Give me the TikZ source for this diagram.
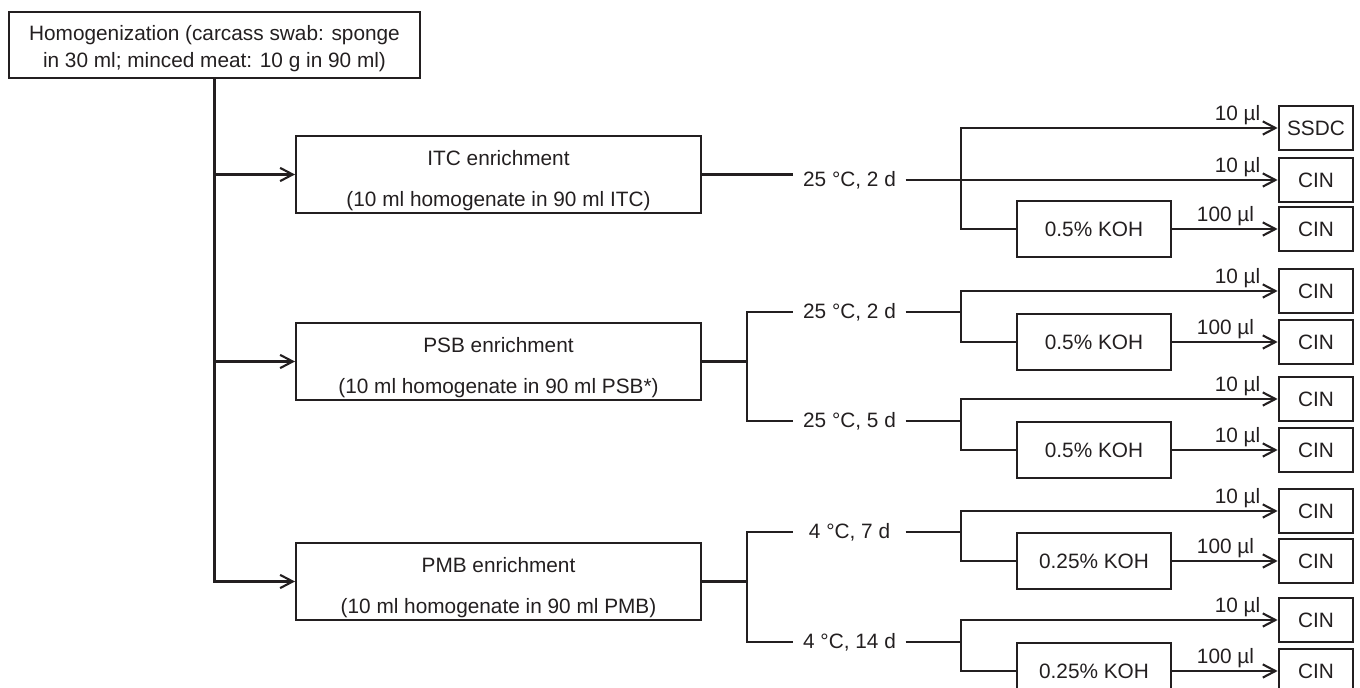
\documentclass[tikz,border=0pt]{standalone}
\usepackage{fontspec}
\setmainfont{Liberation Sans}
\usetikzlibrary{arrows.meta}
\definecolor{ink}{HTML}{231F20}
\begin{document}
\begin{tikzpicture}[x=0.5pt,y=-0.5pt,
  line width=1.05pt, draw=ink,
  every node/.style={text=ink, inner sep=0pt, font=\fontsize{10.4}{13.5}\selectfont},
  topbox/.style={draw=ink, line width=1pt, minimum width=205.5pt, minimum height=33pt},
  toptext/.style={align=center, font=\fontsize{10.4}{13.5}\selectfont},
  encbox/.style={draw=ink, line width=1pt, minimum width=202.5pt, minimum height=38.5pt},
  enctext/.style={align=center, font=\fontsize{10.4}{20.5}\selectfont},
  kohbox/.style={draw=ink, line width=0.8pt, minimum width=77pt, minimum height=28pt},
  cinbox/.style={draw=ink, line width=1.35pt, minimum width=37pt, minimum height=22pt},
  cond/.style={minimum width=55pt},
  arr/.style={-{Straight Barb[length=6.3pt,width=6.6pt]}},
  vol/.style={anchor=center}
]
\useasboundingbox (0,0) rectangle (1360,688);

% main boxes
\node[topbox] (hom) at (214.5,45) {};
\node[toptext] (homT) at (214.5,49) {Homogenization (carcass swab: sponge\\in 30 ml; minced meat: 10 g in 90 ml)};
\node[encbox] (itc) at (498.5,174.5) {};
\node[enctext] (itcT) at (498.5,180.5) {ITC enrichment\\(10 ml homogenate in 90 ml ITC)};
\node[encbox] (psb) at (498.5,361.5) {};
\node[enctext] (psbT) at (498.5,367.5) {PSB enrichment\\(10 ml homogenate in 90 ml PSB*)};
\node[encbox] (pmb) at (498.5,581.5) {};
\node[enctext] (pmbT) at (498.5,587.5) {PMB enrichment\\(10 ml homogenate in 90 ml PMB)};

% trunk
\draw[arr] (hom.south) |- (pmb.west);
\draw[arr] (hom.south |- itc.west) -- (itc.west);
\draw[arr] (hom.south |- psb.west) -- (psb.west);

% condition labels
\node[cond] (t1) at (849.5,180) {25 °C, 2 d};
\node[cond] (t2) at (849.5,312) {25 °C, 2 d};
\node[cond] (t3) at (849.5,421) {25 °C, 5 d};
\node[cond] (t4) at (849.5,532) {4 °C, 7 d};
\node[cond] (t5) at (849.5,642) {4 °C, 14 d};

% junctions
\coordinate (j1) at (961,180);
\coordinate (j2) at (961,312);
\coordinate (j3) at (961,421);
\coordinate (j4) at (961,532);
\coordinate (j5) at (961,642);
\coordinate (bp) at (747,361.5);
\coordinate (bm) at (747,581.5);

% media boxes
\node[cinbox] (c0) at (1316,128) {SSDC};
\node[cinbox] (c1) at (1316,180) {CIN};
\node[cinbox] (c2) at (1316,229) {CIN};
\node[cinbox] (c3) at (1316,291) {CIN};
\node[cinbox] (c4) at (1316,342) {CIN};
\node[cinbox] (c5) at (1316,399) {CIN};
\node[cinbox] (c6) at (1316,450) {CIN};
\node[cinbox] (c7) at (1316,511) {CIN};
\node[cinbox] (c8) at (1316,561) {CIN};
\node[cinbox] (c9) at (1316,620) {CIN};
\node[cinbox] (c10) at (1316,671) {CIN};

% KOH boxes
\node[kohbox] (k1) at (1094,229) {0.5\% KOH};
\node[kohbox] (k2) at (1094,342) {0.5\% KOH};
\node[kohbox] (k3) at (1094,450) {0.5\% KOH};
\node[kohbox] (k4) at (1094,561) {0.25\% KOH};
\node[kohbox] (k5) at (1094,671) {0.25\% KOH};

% ITC branch
\draw (itc.east) -- (t1.west |- itc.east);
\draw[arr] (t1.east) -- (c1.west);
\draw[arr] (j1) |- (c0.west);
\draw (j1) |- (k1.west);
\draw[arr] (k1.east) -- (c2.west);

% PSB branch
\draw (psb.east) -- (bp);
\draw (bp) |- (t2.west);
\draw (bp) |- (t3.west);
\draw (t2.east) -- (j2);
\draw (t3.east) -- (j3);
\draw[arr] (j2) |- (c3.west);
\draw (j2) |- (k2.west);
\draw[arr] (k2.east) -- (c4.west);
\draw[arr] (j3) |- (c5.west);
\draw (j3) |- (k3.west);
\draw[arr] (k3.east) -- (c6.west);

% PMB branch
\draw (pmb.east) -- (bm);
\draw (bm) |- (t4.west);
\draw (bm) |- (t5.west);
\draw (t4.east) -- (j4);
\draw (t5.east) -- (j5);
\draw[arr] (j4) |- (c7.west);
\draw (j4) |- (k4.west);
\draw[arr] (k4.east) -- (c8.west);
\draw[arr] (j5) |- (c9.west);
\draw (j5) |- (k5.west);
\draw[arr] (k5.east) -- (c10.west);

% volume labels
\node[vol] (v0) at (1237.5,115) {10 µl};
\node[vol] (v1) at (1237.5,167) {10 µl};
\node[vol] (v2) at (1225.5,216) {100 µl};
\node[vol] (v3) at (1237.5,278) {10 µl};
\node[vol] (v4) at (1225.5,329) {100 µl};
\node[vol] (v5) at (1237.5,386) {10 µl};
\node[vol] (v6) at (1237.5,437) {10 µl};
\node[vol] (v7) at (1237.5,498) {10 µl};
\node[vol] (v8) at (1225.5,548) {100 µl};
\node[vol] (v9) at (1237.5,607) {10 µl};
\node[vol] (v10) at (1225.5,658) {100 µl};
\end{tikzpicture}
\end{document}
